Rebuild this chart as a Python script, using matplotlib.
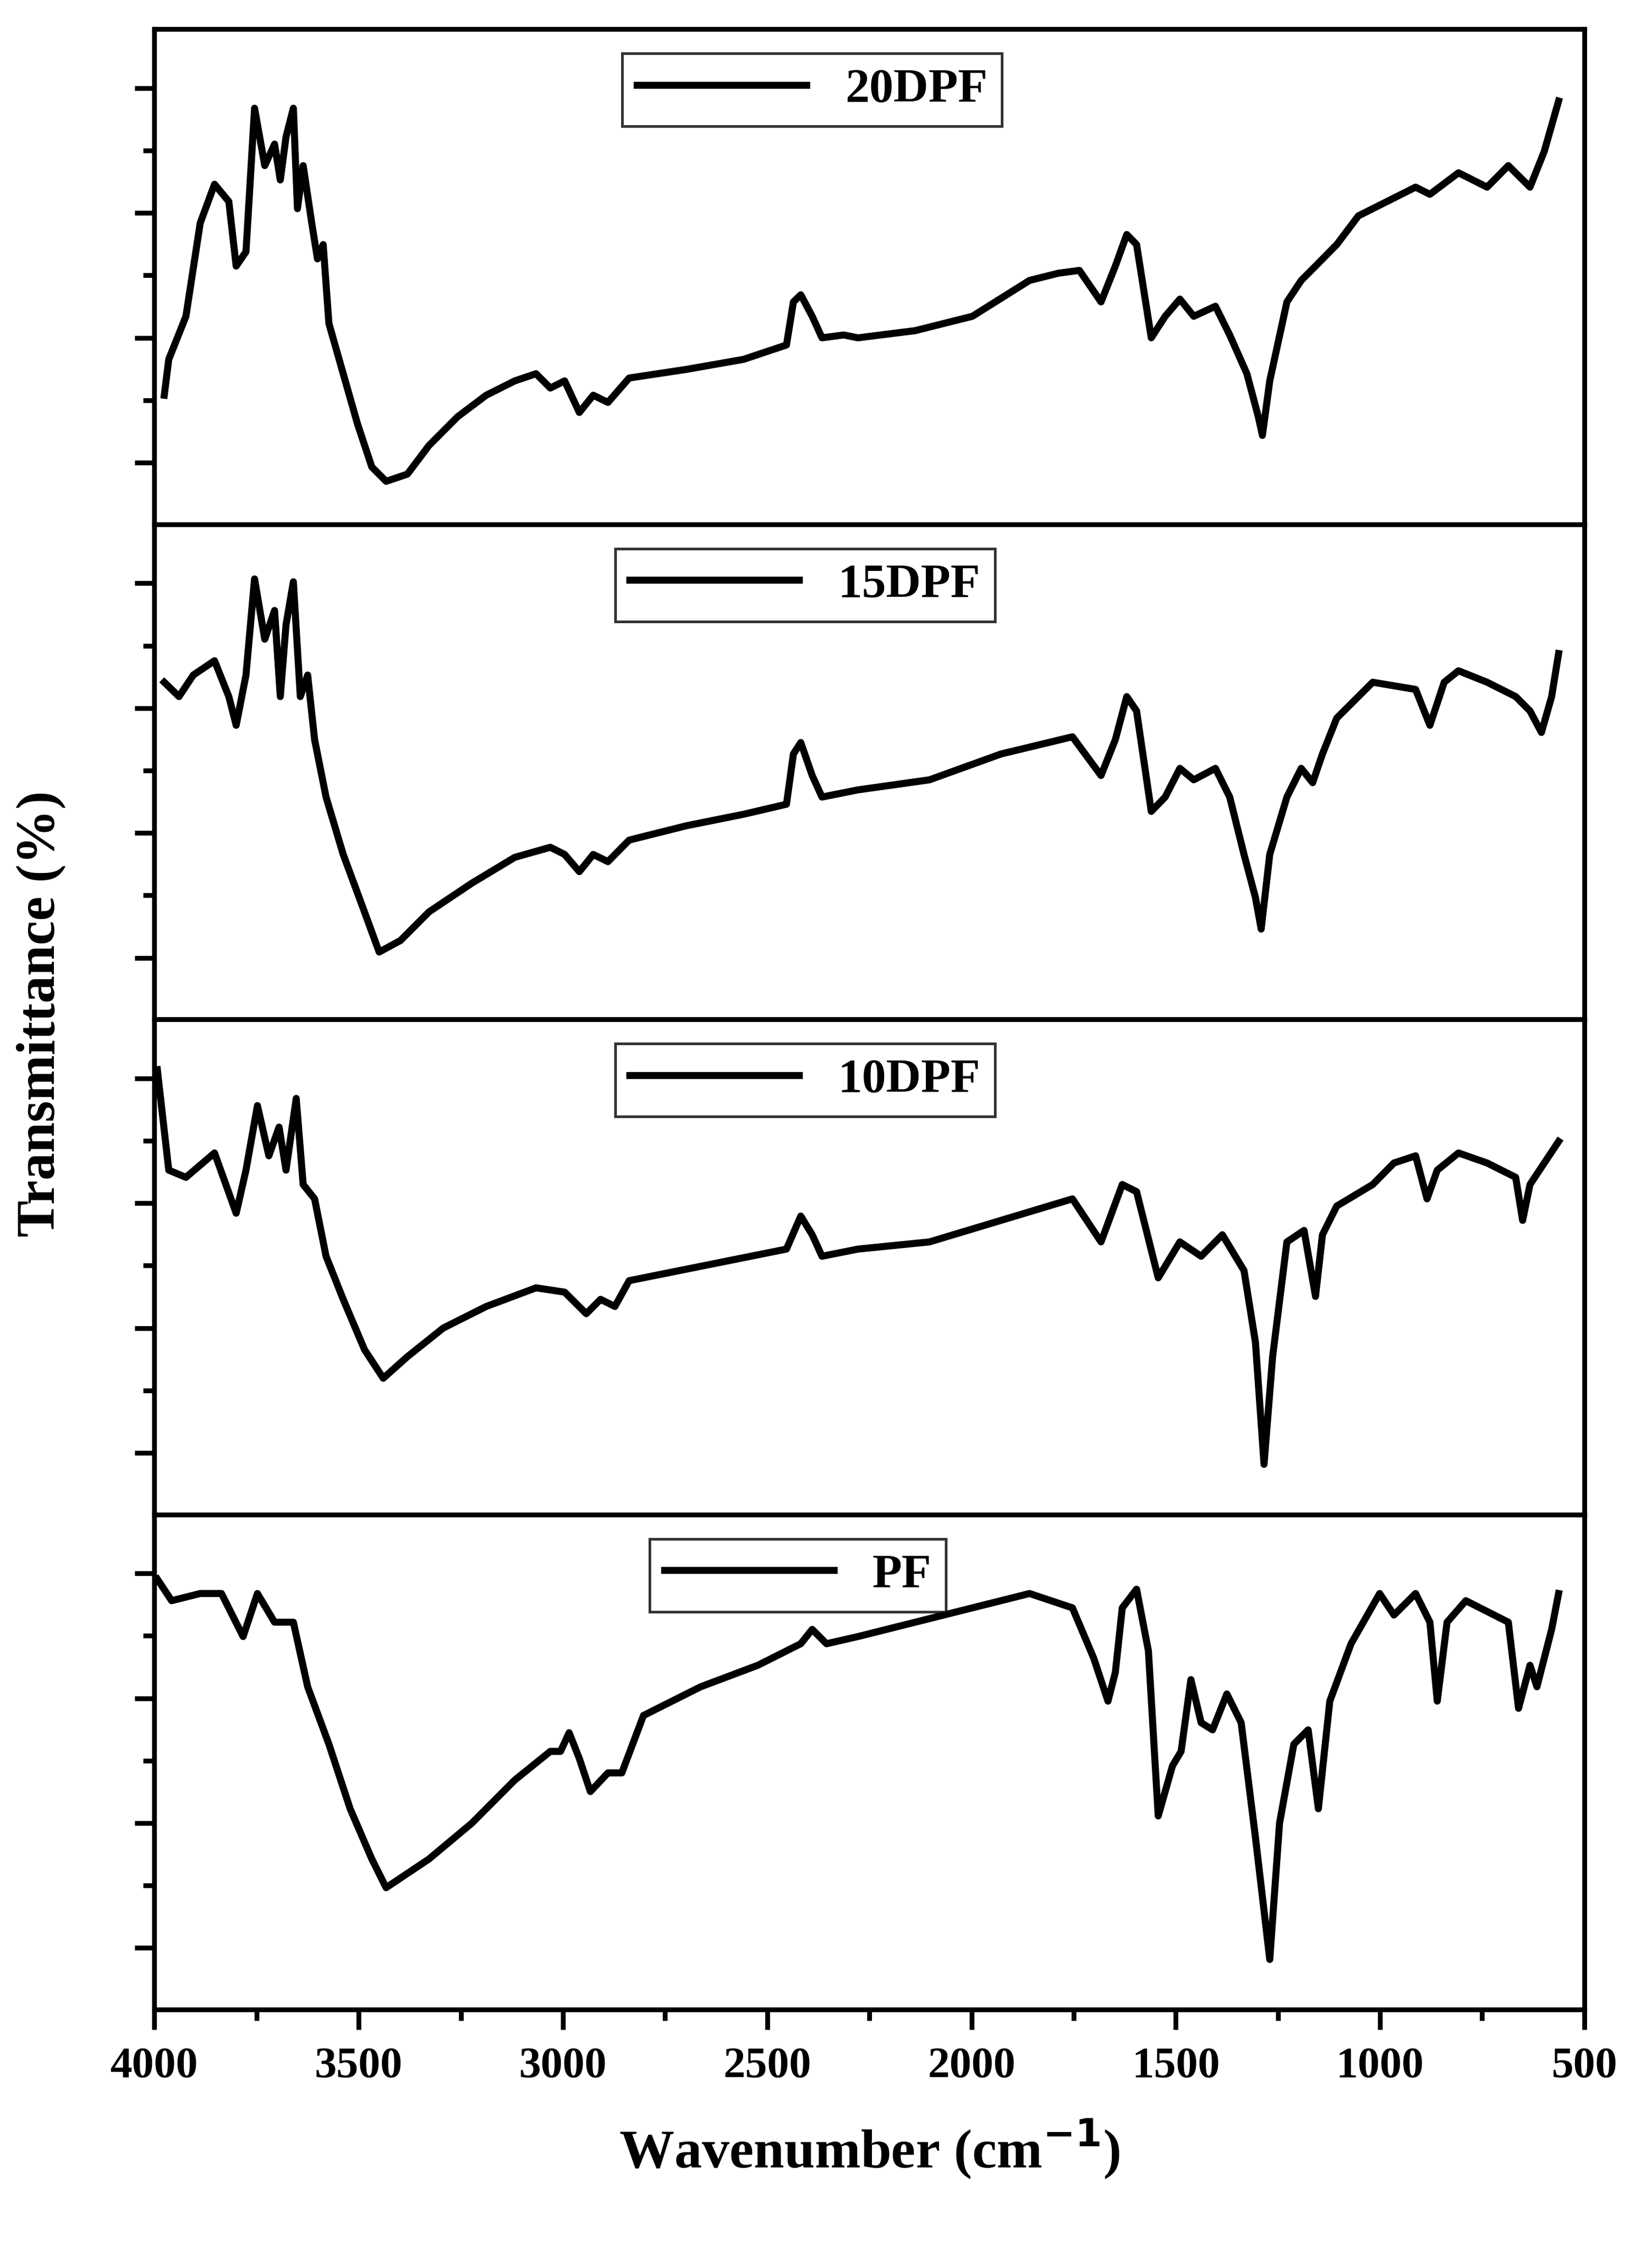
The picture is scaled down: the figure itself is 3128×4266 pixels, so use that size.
import numpy as np
import matplotlib.pyplot as plt
from matplotlib.ticker import MultipleLocator, AutoMinorLocator

plt.rcParams['font.family'] = ['Liberation Serif', 'DejaVu Serif']
plt.rcParams['font.weight'] = 'bold'

# wavenumber (cm-1) and transmittance (arb.)
wn_20 = [3976, 3965, 3923, 3888, 3853, 3818, 3800, 3776, 3755, 3730, 3706, 3692, 3678, 3660, 3650, 3636,
         3615, 3601, 3587, 3573, 3538, 3503, 3468, 3433, 3381, 3328, 3258, 3188, 3118, 3066, 3031, 2996,
         2960, 2926, 2890, 2838, 2698, 2558, 2453, 2436, 2418, 2390, 2366, 2313, 2278, 2138, 1998, 1858,
         1788, 1736, 1683, 1648, 1620, 1596, 1560, 1526, 1490, 1456, 1403, 1368, 1326, 1298, 1288, 1270,
         1228, 1193, 1158, 1106, 1053, 983, 913, 878, 808, 738, 686, 633, 598, 563]
t_20 = [90, 115, 145, 210, 237, 225, 180, 190, 290, 250, 265, 240, 270, 290, 220, 250,
        210, 185, 195, 140, 105, 70, 40, 30, 35, 55, 75, 90, 100, 105, 95, 100,
        78, 90, 85, 102, 108, 115, 125, 155, 160, 145, 130, 132, 130, 135, 145, 170,
        175, 177, 155, 180, 202, 195, 130, 145, 157, 145, 152, 132, 105, 75, 62, 100,
        155, 170, 180, 195, 215, 225, 235, 230, 245, 235, 250, 235, 260, 295]

wn_15 = [3976, 3940, 3905, 3853, 3818, 3800, 3776, 3755, 3730, 3706, 3692, 3678, 3660, 3643, 3625, 3608,
         3580, 3538, 3486, 3450, 3398, 3328, 3223, 3118, 3031, 2996, 2960, 2926, 2890, 2838, 2698, 2558,
         2453, 2436, 2418, 2390, 2366, 2278, 2103, 1928, 1753, 1683, 1648, 1620, 1596, 1560, 1526, 1490,
         1456, 1403, 1368, 1333, 1305, 1291, 1270, 1228, 1193, 1165, 1141, 1106, 1018, 913, 878, 843,
         808, 738, 668, 633, 605, 580, 563]
t_15 = [235, 225, 240, 250, 225, 205, 240, 307, 265, 285, 225, 275, 305, 225, 240, 195,
        155, 115, 75, 47, 55, 75, 95, 113, 120, 115, 103, 115, 110, 125, 135, 143,
        150, 185, 193, 170, 155, 160, 167, 185, 197, 170, 195, 225, 215, 145, 155, 175,
        167, 175, 155, 115, 85, 63, 115, 155, 175, 165, 185, 210, 235, 230, 205, 235,
        243, 235, 225, 215, 200, 225, 255]

wn_10 = [3993, 3965, 3923, 3853, 3800, 3776, 3748, 3720, 3695, 3678, 3653, 3636, 3608, 3580, 3538, 3486,
         3440, 3381, 3293, 3188, 3066, 2996, 2943, 2908, 2873, 2838, 2628, 2453, 2418, 2390, 2366, 2278,
         2103, 1928, 1753, 1683, 1631, 1596, 1543, 1490, 1438, 1386, 1333, 1305, 1284, 1263, 1228, 1186,
         1158, 1141, 1106, 1018, 966, 913, 885, 860, 808, 738, 668, 651, 633, 563]
t_10 = [310, 240, 235, 252, 210, 240, 285, 250, 270, 240, 290, 230, 220, 180, 150, 115,
        95, 110, 130, 145, 158, 155, 140, 150, 145, 163, 175, 185, 208, 195, 180, 185,
        190, 205, 220, 190, 230, 225, 165, 190, 180, 195, 170, 120, 35, 110, 190, 198,
        152, 195, 215, 230, 245, 250, 220, 240, 252, 245, 235, 205, 230, 260]

wn_pf = [3993, 3958, 3888, 3836, 3783, 3748, 3706, 3660, 3625, 3573, 3521, 3468, 3433, 3328, 3223, 3118,
         3031, 3006, 2985, 2960, 2933, 2890, 2856, 2803, 2663, 2523, 2418, 2390, 2355, 2278, 2068, 1858,
         1753, 1701, 1666, 1648, 1631, 1596, 1567, 1543, 1508, 1487, 1463, 1438, 1410, 1375, 1340, 1305,
         1270, 1246, 1211, 1176, 1151, 1123, 1071, 1001, 966, 913, 878, 860, 836, 790, 686, 661,
         633, 616, 580, 563]
t_pf = [300, 285, 290, 290, 260, 290, 270, 270, 225, 185, 140, 105, 85, 105, 130, 160,
        180, 180, 193, 175, 152, 165, 165, 205, 225, 240, 255, 265, 255, 260, 275, 290,
        280, 245, 215, 235, 280, 293, 250, 135, 170, 180, 230, 200, 195, 220, 200, 120,
        35, 130, 185, 195, 140, 215, 255, 290, 275, 290, 270, 215, 270, 285, 270, 210,
        240, 225, 265, 290]

labels = ['20DPF', '15DPF', '10DPF', 'PF']
series = [(wn_20, t_20), (wn_15, t_15), (wn_10, t_10), (wn_pf, t_pf)]
legend_x = [0.46, 0.455, 0.455, 0.45]

fig, axes = plt.subplots(4, 1, figsize=(10.427, 14.22), dpi=300, sharex=True)
fig.subplots_adjust(left=0.0935, right=0.959, top=0.987, bottom=0.108, hspace=0)

for ax, lab, (wn, t), lx in zip(axes, labels, series, legend_x):
    ax.plot(wn, t, color='black', lw=3.2, label=lab)
    ax.set_xlim(4000, 500)
    ax.set_ylim(0, 345)
    ax.set_yticks([43, 130, 217, 304])
    ax.yaxis.set_minor_locator(AutoMinorLocator(2))
    ax.set_yticklabels([])
    ax.xaxis.set_major_locator(MultipleLocator(500))
    ax.xaxis.set_minor_locator(MultipleLocator(250))
    for s in ax.spines.values():
        s.set_linewidth(2.2)
    ax.tick_params(which='major', direction='out', length=9, width=2.2, labelsize=20, pad=8)
    ax.tick_params(which='minor', direction='out', length=5, width=2.2)
    ax.tick_params(axis='x', which='both', bottom=(ax is axes[-1]))
    leg = ax.legend(loc='upper center', bbox_to_anchor=(lx, 1.0), fancybox=False,
                    edgecolor='black', handlelength=3.5, borderpad=0.3,
                    prop={'weight': 'bold', 'size': 22})
    leg.get_frame().set_linewidth(1.2)

for lab in axes[-1].get_xticklabels():
    lab.set_fontweight('bold')
axes[-1].set_xlabel('Wavenumber (cm$^{\\mathbf{-1}}$)', fontsize=25, fontweight='bold', labelpad=14)
fig.text(0.025, 0.55, 'Transmittance (%)', rotation=90, va='center', ha='center',
         fontsize=25, fontweight='bold')

fig.savefig('out.png', dpi=300, facecolor='white')
